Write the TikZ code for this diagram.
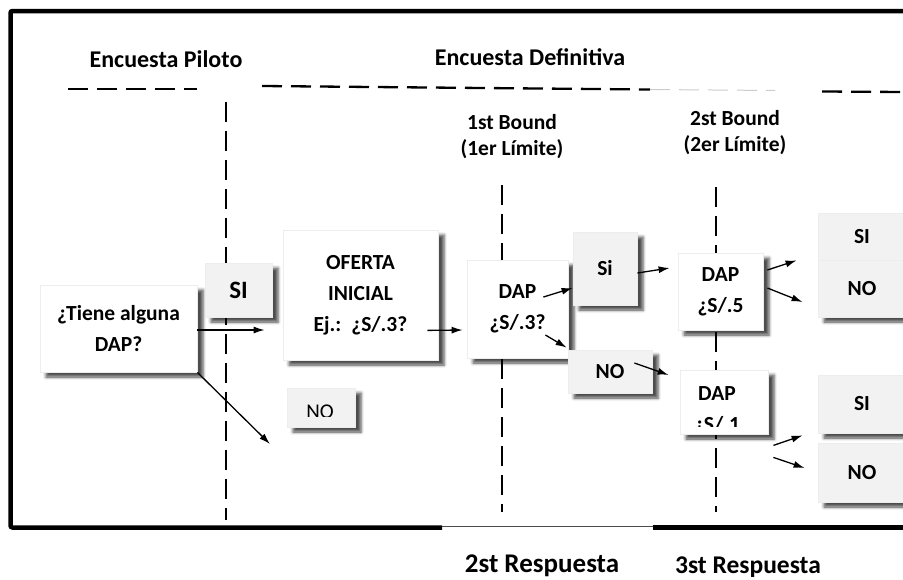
\documentclass[tikz,border=0pt]{standalone}
\usepackage{fontspec}
\setmainfont{Carlito}
\usetikzlibrary{arrows,arrows.meta,positioning,calc,shadows.blur}

\begin{document}
\begin{tikzpicture}[x=1pt,y=-1pt,
        txt/.style={font=\bfseries\fontsize{21.5}{31}\selectfont, align=center},
        wbox/.style={txt, fill=white, draw=black!7, line width=0.8pt, inner sep=0pt,
            blur shadow={shadow xshift=6pt, shadow yshift=-5pt, shadow blur radius=3pt, shadow opacity=70}},
        gbox/.style={wbox, fill=black!5},
        sep/.style={line width=2.3pt, dash pattern=on 20pt off 9pt},
        arr/.style={-{Latex[length=11pt,width=7pt]}, line width=1.3pt}]
    \useasboundingbox (0,0) rectangle (903,579);
    \clip (0,0) rectangle (903,579);
    % marco
    \draw[line width=4.5pt, rounded corners=2pt] (905,11) -- (10.5,11) -- (10.5,527.5) -- (442,527.5);
    \draw[line width=4.5pt] (653,527.5) -- (905,527.5);
    \draw[line width=0.8pt, black!70] (442,526) -- (653,526);
    % titulos
    \node[font=\bfseries\fontsize{24}{28}\selectfont, anchor=base] (pil) at (166,67) {Encuesta Piloto};
    \node[font=\bfseries\fontsize{24}{28}\selectfont, anchor=base] (def) at (530,65) {Encuesta Definitiva};
    \node[txt, font=\bfseries\fontsize{21.5}{26}\selectfont] (b1) at (512,137) {1st Bound\\(1er Límite)};
    \node[txt, font=\bfseries\fontsize{21.5}{26}\selectfont] (b2) at (735,133) {2st Bound\\(2er Límite)};
    % lineas de corte
    \draw[sep] (68,89) -- (197,89);
    \draw[sep] (262,86) -- (650,89.5);
    \draw[sep, line width=1pt, black!20] (650,89.5) -- (775,90.5);
    \draw[sep] (822,91.5) -- (905,92);
    \draw[sep] (226,102) -- (226,520);
    \draw[sep] (502,185) -- (502,512);
    \draw[sep] (716,187) -- (716,512);
    % cajas
    \node[wbox, minimum width=157pt, minimum height=87pt] (t) at (118.5,328.5) {¿Tiene alguna\\DAP?};
    \node[gbox, font=\bfseries\fontsize{25}{29}\selectfont, minimum width=67pt, minimum height=54pt] (si1) at (238.5,290) {SI};
    \node[wbox, minimum width=155pt, minimum height=130pt] (of) at (360.5,295) {OFERTA\\INICIAL\\Ej.:\hspace{10pt}¿S/.3?};
    \node[gbox, minimum width=68pt, minimum height=39pt] (no1) at (321,407.5) {};
    \begin{scope}
        \clip (no1.north west) rectangle ([yshift=11pt]no1.south east);
        \node[font=\fontsize{21}{24}\selectfont, anchor=base] (no1t) at (320,418) {NO};
    \end{scope}
    \node[wbox, minimum width=101pt, minimum height=98pt] (dap1) at (517.5,309) {DAP\\¿S/.3?};
    \node[gbox, minimum width=64pt, minimum height=73pt] (si2) at (605,268.5) {Si};
    \node[gbox, minimum width=84pt, minimum height=43pt] (no2) at (610,371.5) {NO};
    \node[wbox, minimum width=85pt, minimum height=77pt] (dap2) at (720.5,291.5) {DAP\\¿S/.5};
    \node[wbox, minimum width=88pt, minimum height=64pt] (dap3) at (724,402) {};
    \node[txt, anchor=base] (dap3t) at (717,400) {DAP};
    \begin{scope}
        \clip (dap3.north west) rectangle ([yshift=8pt]dap3.south east);
        \node[txt, anchor=base] (dap3v) at (717,431) {¿S/.1};
    \end{scope}
    \node[gbox, minimum width=88pt, minimum height=47pt] (si3) at (862,236.5) {SI};
    \node[gbox, minimum width=88pt, minimum height=57pt] (no3) at (862,288.5) {NO};
    \node[gbox, minimum width=88pt, minimum height=58pt] (si4) at (862,404) {SI};
    \node[gbox, minimum width=88pt, minimum height=59pt] (no4) at (862,472.5) {NO};
    % respuestas
    \node[font=\bfseries\fontsize{27}{30}\selectfont, anchor=base] (r2) at (542,572) {2st Respuesta};
    \node[font=\bfseries\fontsize{25.5}{30}\selectfont, anchor=base] (r3) at (748,573) {3st Respuesta};
    % flechas
    \coordinate (nend) at (270,444);
    \draw[arr] ([yshift=-1.5pt]t.east) -- ([xshift=-18pt,yshift=-1.5pt]t.east -| of.west);
    \draw[arr] (t.south east) -- (nend);
    \draw[arr] ($(of.south east)+(-11,-30)$) -- ($(dap1.west)+(-4,21)$);
    \draw[arr] ($(dap1.east)+(-25,-12)$) -- ($(si2.west)+(0,19.5)$);
    \draw[arr] ($(dap1.east)+(-23,26)$) -- ($(no2.north west)+(-1,-2)$);
    \draw[arr] ($(si2.east)+(0,4.5)$) -- ($(dap2.west)+(-8,-23.5)$);
    \draw[arr] ($(no2.east)+(-18,-8.5)$) -- ($(dap3.west)+(-11,-27)$);
    \draw[arr] ($(dap2.east)+(4,-21.5)$) -- ($(si3.south west)+(-21,0)$);
    \draw[arr] ($(dap2.east)+(4,-3.5)$) -- ($(no3.west)+(-15,13.5)$);
    \draw[arr] ($(dap3.south east)+(5,11)$) -- ($(si4.south west)+(-15,2)$);
    \draw[arr] ($(dap3.south east)+(5,23)$) -- ($(no4.west)+(-13,-4.5)$);
\end{tikzpicture}
\end{document}
